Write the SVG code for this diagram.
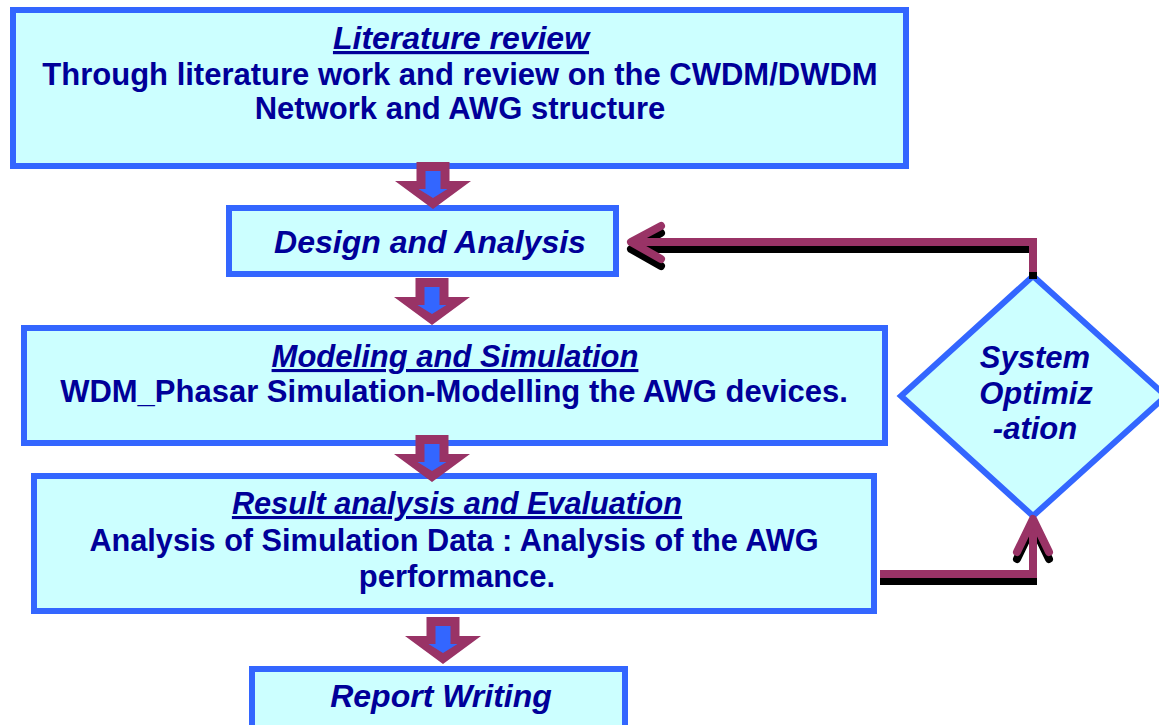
<svg xmlns="http://www.w3.org/2000/svg" xmlns:xlink="http://www.w3.org/1999/xlink" width="1159" height="725" viewBox="0 0 1159 725">
  <style>
    .box { fill: #ccffff; stroke: #3366ff; stroke-width: 6; }
    .txt { font-family: "Liberation Sans", Arial, sans-serif; font-weight: bold; font-size: 31px; fill: #000099; text-anchor: middle; }
    .ttl { font-style: italic; text-decoration: underline; font-size: 32px; }
    .it { font-style: italic; font-size: 32px; }
    .dia { font-style: italic; }
    .line { fill: none; stroke-width: 8; stroke-linejoin: miter; }
    .head { fill: none; stroke-width: 8; stroke-linecap: round; stroke-linejoin: round; }
  </style>
  <defs>
    <!-- block arrow pointing down: purple outline shape with a blue inner arrow -->
    <g id="downArrow">
      <path d="M-16.5,0 H16.5 V19 H38 L0,47 L-38,19 H-16.5 Z" fill="#993366"/>
      <path d="M-7.5,9 H7.5 V27 H14.5 L0,36 L-14.5,27 H-7.5 Z" fill="#3366ff"/>
    </g>
    <!-- feedback loop geometry; colour comes from the referencing group -->
    <g id="loopPath">
      <path class="line" d="M880,574 H1033 V524"/>
      <polyline class="head" points="1017,552 1033,519 1049,552"/>
      <path class="line" d="M1033,272 V242 H638"/>
      <polyline class="head" points="661,226 631,242 661,259"/>
    </g>
  </defs>

  <rect width="1159" height="725" fill="#ffffff"/>

  <g id="literature-review">
    <rect class="box" x="13" y="10" width="893" height="156"/>
    <text class="txt ttl" x="461" y="49">Literature review</text>
    <text class="txt" x="460" y="85">Through literature work and review on the CWDM/DWDM</text>
    <text class="txt" x="460" y="119">Network and AWG structure</text>
  </g>

  <g id="design-analysis">
    <rect class="box" x="229" y="208" width="387" height="66"/>
    <text class="txt it" x="430" y="253">Design and Analysis</text>
  </g>

  <g id="modeling-simulation">
    <rect class="box" x="24" y="328" width="861" height="115"/>
    <text class="txt ttl" x="455" y="367" style="font-size:31px">Modeling and Simulation</text>
    <text class="txt" x="454" y="402">WDM_Phasar Simulation-Modelling the AWG devices.</text>
  </g>

  <g id="result-analysis">
    <rect class="box" x="34" y="476" width="840" height="135"/>
    <text class="txt ttl" x="457" y="514" style="font-size:30.7px">Result analysis and Evaluation</text>
    <text class="txt" x="454" y="551" style="font-size:30.7px">Analysis of Simulation Data : Analysis of the AWG</text>
    <text class="txt" x="457" y="587">performance.</text>
  </g>

  <g id="report-writing">
    <rect class="box" x="252" y="669" width="373" height="80"/>
    <text class="txt it" x="441" y="707">Report Writing</text>
  </g>

  <g id="system-optimization">
    <polygon class="box" points="1033,276 1166,396 1033,516 901,396"/>
    <text class="txt dia" x="1035" y="368">System</text>
    <text class="txt dia" x="1036" y="404">Optimiz</text>
    <text class="txt dia" x="1035" y="439">-ation</text>
  </g>

  <g id="connectors">
    <use xlink:href="#downArrow" x="433" y="162"/>
    <use xlink:href="#downArrow" x="432" y="278"/>
    <use xlink:href="#downArrow" x="432" y="435"/>
    <use xlink:href="#downArrow" x="443" y="617"/>
    <!-- feedback loop: black drop shadow first, then the purple line on top -->
    <g stroke="#000000" transform="translate(0,7)">
      <use xlink:href="#loopPath"/>
    </g>
    <g stroke="#993366">
      <use xlink:href="#loopPath"/>
    </g>
  </g>
</svg>
